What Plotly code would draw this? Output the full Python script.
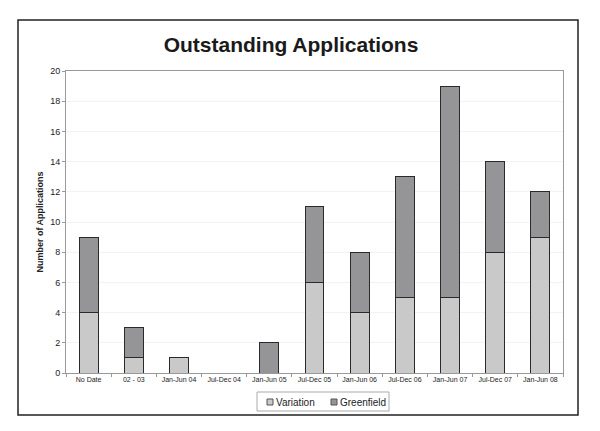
import plotly.graph_objects as go

# Outstanding applications by period
periods = ["No Date", "02 - 03", "Jan-Jun 04", "Jul-Dec 04", "Jan-Jun 05", "Jul-Dec 05",
           "Jan-Jun 06", "Jul-Dec 06", "Jan-Jun 07", "Jul-Dec 07", "Jan-Jun 08"]
variation = [4, 1, 1, 0, 0, 6, 4, 5, 5, 8, 9]
greenfield = [5, 2, 0, 0, 2, 5, 4, 8, 14, 6, 3]
y_ticks = [0, 2, 4, 6, 8, 10, 12, 14, 16, 18, 20]

font = "Arial, Liberation Sans, sans-serif"
light, dark, edge = "#c9c9c9", "#959598", "#2a2a2a"

# page body adds 8px margin, so figure is 8px smaller than the window
W, H = 592, 423
L, R, T, B = 58, 37, 63, 58
pw, ph = W - L - R, H - T - B


# window pixel -> paper coordinates
def xp(px):
    return (px - 8 - L) / pw


def yp(py):
    return (T + ph - (py - 8)) / ph


fig = go.Figure()
fig.add_trace(go.Bar(x=periods, y=variation, name="Variation",
                     marker=dict(color=light, line=dict(color=edge, width=1))))
fig.add_trace(go.Bar(x=periods, y=greenfield, name="Greenfield",
                     marker=dict(color=dark, line=dict(color=edge, width=1))))

fig.update_layout(
    barmode="stack",
    bargap=0.58,
    width=W, height=H,
    showlegend=False,
    margin=dict(l=L, r=R, t=T, b=B, autoexpand=False),
    paper_bgcolor="white",
    plot_bgcolor="white",
    font=dict(family=font, color="#222"),
    title=dict(text="<b>Outstanding Applications</b>", x=283 / W, xanchor="center",
               y=1 - 37 / H, yanchor="middle", font=dict(size=21, color="#1a1a1a")),
    xaxis=dict(showline=True, linecolor="#999", linewidth=1, ticks="outside",
               tickcolor="#999", ticklen=3, tickfont=dict(size=7, color="#222"),
               mirror=True, tickson="boundaries"),
    yaxis=dict(range=[0, 20], tickvals=y_ticks, showline=True, linecolor="#999",
               linewidth=1, ticks="outside", tickcolor="#999", ticklen=3,
               tickfont=dict(size=9), mirror=True, showgrid=True, gridcolor="#f3f3f3",
               title=dict(text="<b>Number of Applications</b>", font=dict(size=9), standoff=5)),
)

# outer chart border
fig.add_shape(type="rect", xref="paper", yref="paper",
              x0=xp(18), x1=xp(578), y0=yp(415), y1=yp(20),
              line=dict(color="#222", width=1.5), fillcolor="rgba(0,0,0,0)")

# compact legend like the original
fig.add_shape(type="rect", xref="paper", yref="paper",
              x0=xp(257), x1=xp(389), y0=yp(411), y1=yp(392),
              line=dict(color="#aaa", width=1), fillcolor="white")
for name, colour, sx in [("Variation", light, 267), ("Greenfield", dark, 331)]:
    fig.add_shape(type="rect", xref="paper", yref="paper",
                  x0=xp(sx), x1=xp(sx + 6), y0=yp(405), y1=yp(399),
                  line=dict(color="#555", width=1), fillcolor=colour)
    fig.add_annotation(text=name, xref="paper", yref="paper", x=xp(sx + 7), y=yp(402),
                       xanchor="left", yanchor="middle", showarrow=False,
                       font=dict(size=10, color="#222"))

fig.write_html("out.html")
